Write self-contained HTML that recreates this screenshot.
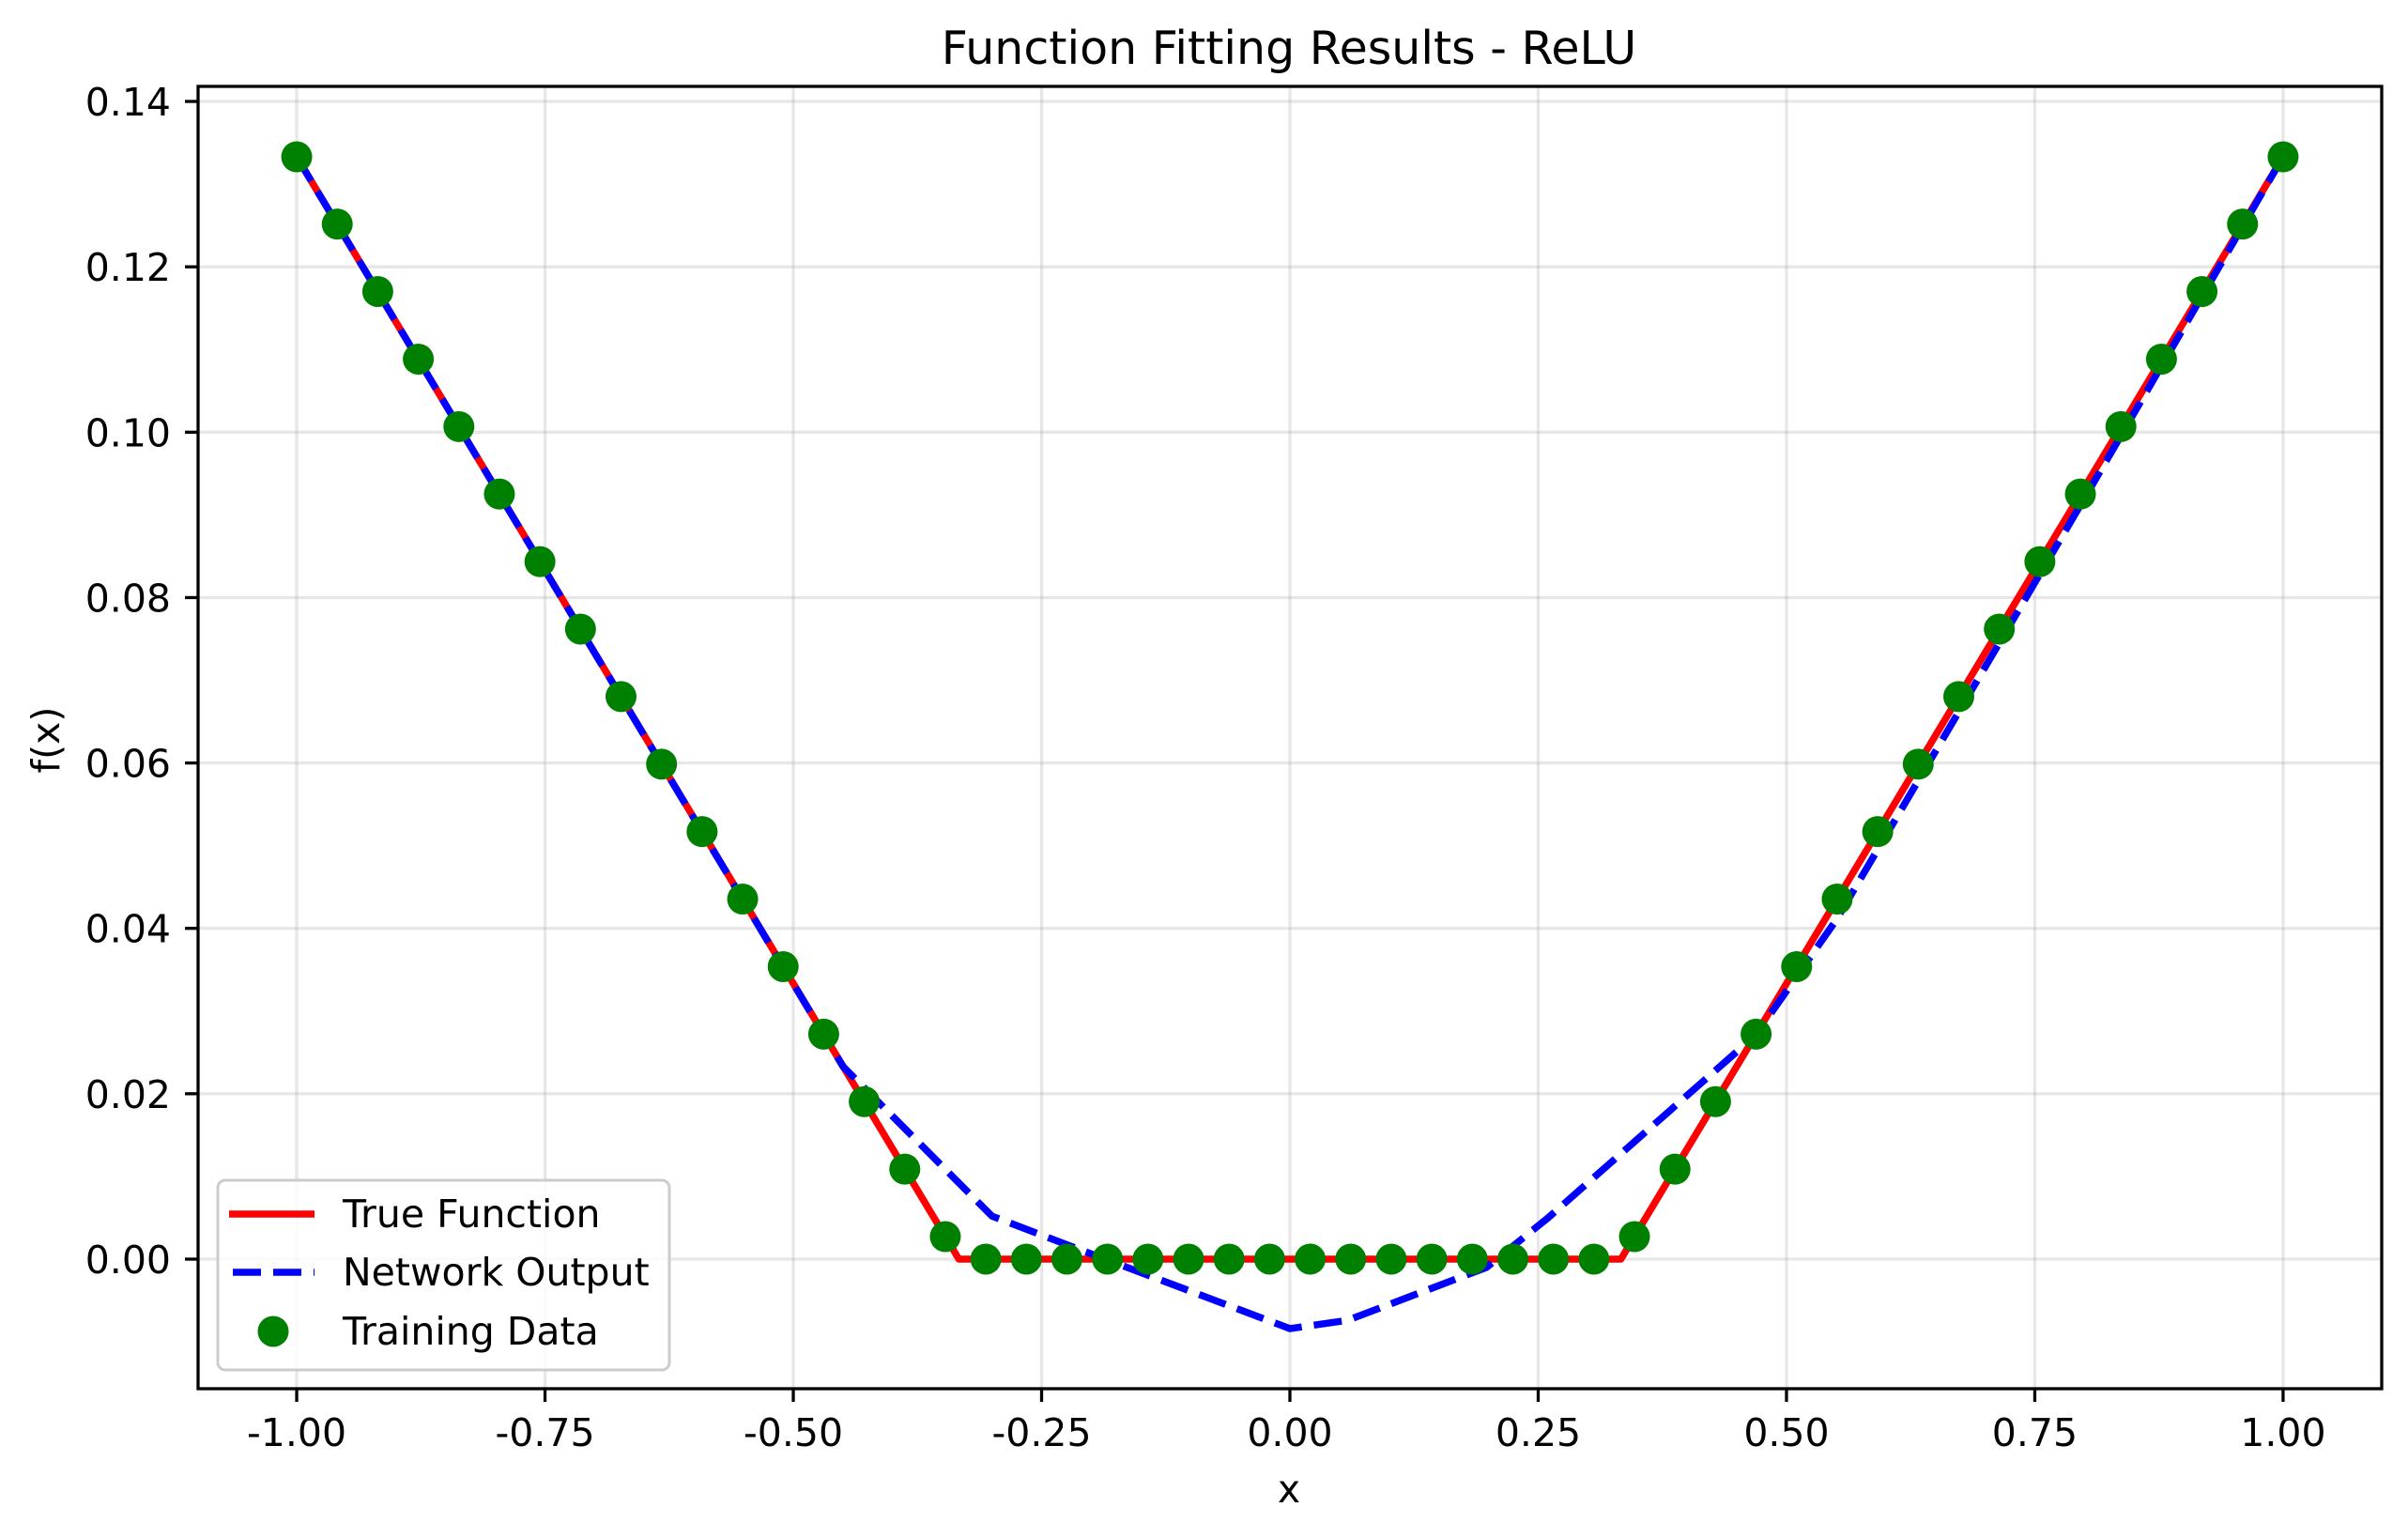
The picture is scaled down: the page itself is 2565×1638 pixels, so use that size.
<!DOCTYPE html>
<html><head><meta charset="utf-8"><title>Function Fitting Results - ReLU</title>
<style>
html,body{margin:0;padding:0;background:#fff;}
svg{display:block;font-family:"DejaVu Sans","Liberation Sans",sans-serif;}
</style></head>
<body>
<svg id="chart" width="2565" height="1638" viewBox="0 0 2565 1638" xmlns="http://www.w3.org/2000/svg">
<rect width="2565" height="1638" fill="#fff"/>
<g id="grid"></g>
<g id="series"></g>
<g id="axes"></g>
<text x="1373" y="68" font-size="49" text-anchor="middle">Function Fitting Results - ReLU</text>
<text x="1373" y="1600" font-size="41" text-anchor="middle">x</text>
<text x="0" y="0" font-size="41" text-anchor="middle" transform="translate(63,788) rotate(-90)">f(x)</text>
<g>
  <rect x="232" y="1257" width="481" height="202" rx="8" fill="#fff" fill-opacity="0.8" stroke="#cccccc" stroke-width="3"/>
  <line x1="244" y1="1293" x2="335" y2="1293" stroke="#ff0000" stroke-width="7.5"/>
  <text x="365" y="1307" font-size="41">True Function</text>
  <line x1="248" y1="1355" x2="335" y2="1355" stroke="#0000ff" stroke-width="7.5" stroke-dasharray="30 13"/>
  <text x="365" y="1369" font-size="41">Network Output</text>
  <ellipse cx="291" cy="1418" rx="16.5" ry="16.5" fill="#008000"/>
  <text x="365" y="1432" font-size="41">Training Data</text>
</g>
</svg>
<script>
const xTicks = [-1.00, -0.75, -0.50, -0.25, 0.00, 0.25, 0.50, 0.75, 1.00];
const xTickLabels = ["-1.00","-0.75","-0.50","-0.25","0.00","0.25","0.50","0.75","1.00"];
const yTicks = [0.00, 0.02, 0.04, 0.06, 0.08, 0.10, 0.12, 0.14];
const yTickLabels = ["0.00","0.02","0.04","0.06","0.08","0.10","0.12","0.14"];
const trueX = [-1.0, -0.3333, 0.3333, 1.0];
const trueY = [0.1333, 0.0, 0.0, 0.1333];
const netX = [-1.0, -0.45, -0.30, -0.217, 0.0, 0.058, 0.198, 0.26, 0.469, 0.55, 0.80, 1.0];
const netY = [0.1333, 0.0233, 0.0052, 0.0014, -0.0084, -0.0074, -0.0010, 0.0050, 0.0271, 0.0410, 0.0920, 0.1333];
const dataX = [-1.0,-0.95918,-0.91837,-0.87755,-0.83673,-0.79592,-0.7551,-0.71429,-0.67347,-0.63265,-0.59184,-0.55102,-0.5102,-0.46939,-0.42857,-0.38776,-0.34694,-0.30612,-0.26531,-0.22449,-0.18367,-0.14286,-0.10204,-0.06122,-0.02041,0.02041,0.06122,0.10204,0.14286,0.18367,0.22449,0.26531,0.30612,0.34694,0.38776,0.42857,0.46939,0.5102,0.55102,0.59184,0.63265,0.67347,0.71429,0.7551,0.79592,0.83673,0.87755,0.91837,0.95918,1.0];
const dataY = [0.1333,0.12517,0.11701,0.10884,0.10068,0.09252,0.08435,0.07619,0.06803,0.05986,0.0517,0.04354,0.03537,0.02721,0.01905,0.01088,0.00272,0,0,0,0,0,0,0,0,0,0,0,0,0,0,0,0,0.00272,0.01088,0.01905,0.02721,0.03537,0.04354,0.0517,0.05986,0.06803,0.07619,0.08435,0.09252,0.10068,0.10884,0.11701,0.12517,0.1333];

const NS = "http://www.w3.org/2000/svg";
const L = 211, R = 2537, T = 92, B = 1479;
const xMin = -1.0993, xMax = 1.0993, yMin = -0.01567, yMax = 0.14182;
function sx(v){ return L + (v - xMin) / (xMax - xMin) * (R - L); }
function sy(v){ return B - (v - yMin) / (yMax - yMin) * (B - T); }
function mk(tag, attrs, parent){
  const e = document.createElementNS(NS, tag);
  for (const k in attrs) e.setAttribute(k, attrs[k]);
  parent.appendChild(e);
  return e;
}
const grid = document.getElementById('grid');
const axes = document.getElementById('axes');
const series = document.getElementById('series');

xTicks.forEach((v, i) => {
  const g = mk('line', {x1: sx(v), x2: sx(v), y1: T, y2: B, stroke: '#b0b0b0', 'stroke-opacity': 0.3, 'stroke-width': 3.3}, grid);
  
  
  const t = mk('line', {x1: sx(v), x2: sx(v), y1: B, y2: B + 14, stroke: '#000', 'stroke-width': 3.3}, axes);
  
  
  const lb = mk('text', {x: sx(v), y: 1540, 'font-size': 41, 'text-anchor': 'middle'}, axes);
  lb.textContent = xTickLabels[i];
  
  
});
yTicks.forEach((v, i) => {
  const g = mk('line', {x1: L, x2: R, y1: sy(v), y2: sy(v), stroke: '#b0b0b0', 'stroke-opacity': 0.3, 'stroke-width': 3.3}, grid);
  
  
  const t = mk('line', {x1: L - 14, x2: L, y1: sy(v), y2: sy(v), stroke: '#000', 'stroke-width': 3.3}, axes);
  
  
  const lb = mk('text', {x: 182, y: sy(v) + 15, 'font-size': 41, 'text-anchor': 'end'}, axes);
  lb.textContent = yTickLabels[i];
  
  
});
const frame = mk('rect', {x: L, y: T, width: R - L, height: B - T, fill: 'none', stroke: '#000', 'stroke-width': 3.3}, axes);



const tl = mk('polyline', {points: trueX.map((v, i) => sx(v) + ',' + sy(trueY[i])).join(' '), fill: 'none', stroke: '#ff0000', 'stroke-width': 7.5, 'stroke-linejoin': 'round'}, series);


const nl = mk('polyline', {points: netX.map((v, i) => sx(v) + ',' + sy(netY[i])).join(' '), fill: 'none', stroke: '#0000ff', 'stroke-width': 7.5, 'stroke-dasharray': '30 13'}, series);


dataX.forEach((v, i) => {
  const c = mk('circle', {cx: sx(v), cy: sy(dataY[i]), r: 16.5, fill: '#008000'}, series);
  
  
});
</script>
</body></html>
